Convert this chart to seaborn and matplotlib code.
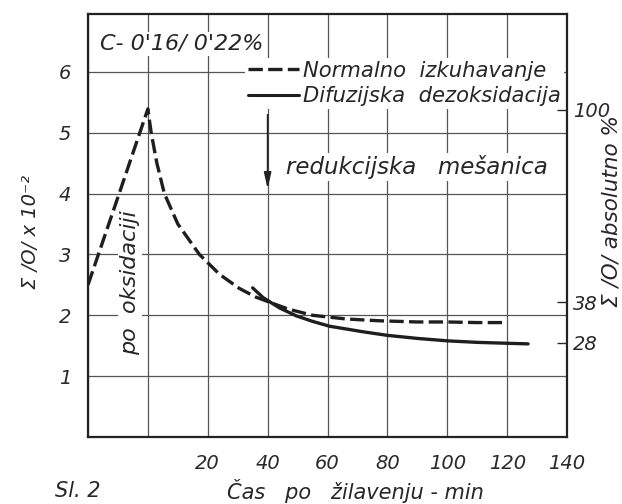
import matplotlib
matplotlib.use("Agg")
import matplotlib.pyplot as plt
import seaborn as sns
import pandas as pd
from matplotlib.lines import Line2D

# ---- data ----
normal_x = [-20, -10, 0, 1.1, 3, 5.5, 10, 17.2, 24, 30.6, 36, 42, 47, 55, 66, 77, 90, 100, 110, 120]
normal_y = [2.5, 3.94, 5.39, 5.0, 4.5, 4.0, 3.5, 3.0, 2.67, 2.44, 2.30, 2.19, 2.10, 2.00, 1.94, 1.91, 1.89, 1.89, 1.88, 1.88]
diff_x = [35, 38.5, 44, 49.6, 55, 60.7, 71.7, 80, 90, 100, 110, 120, 127]
diff_y = [2.45, 2.29, 2.12, 1.99, 1.90, 1.82, 1.73, 1.67, 1.62, 1.58, 1.555, 1.54, 1.53]

series_names = ["Normalno  izkuhavanje", "Difuzijska  dezoksidacija"]
x_ticks = [-20, 0, 20, 40, 60, 80, 100, 120, 140]
x_tick_labels = ["", "", "20", "40", "60", "80", "100", "120", "140"]
y_ticks = [1, 2, 3, 4, 5, 6]
y_tick_labels = ["1", "2", "3", "4", "5", "6"]
right_tick_pos = [5.38, 2.21, 1.55]
right_tick_labels = ["100", "38", "28"]

df = pd.concat([
    pd.DataFrame({"t": normal_x, "O": normal_y, "serija": series_names[0]}),
    pd.DataFrame({"t": diff_x, "O": diff_y, "serija": series_names[1]}),
])

sns.set_theme(style="white")
plt.rcParams["font.family"] = ["DejaVu Sans"]
plt.rcParams["font.style"] = "italic"

INK = "#1e1e1e"
fig = plt.figure(figsize=(6.22, 5.04), dpi=100)
ax = fig.add_axes([88/622, 67/504, 479/622, 423/504])

sns.lineplot(data=df, x="t", y="O", hue="serija", style="serija",
             palette=[INK, INK],
             dashes={series_names[0]: (4.3, 1.6), series_names[1]: ""},
             linewidth=2.4, ax=ax, sort=False, estimator=None, legend=False, zorder=5)

ax.set_xlim(-20, 140)
ax.set_ylim(0, 6.95)
ax.set_xticks(x_ticks)
ax.set_xticklabels(x_tick_labels, fontsize=14, style="italic")
ax.set_yticks(y_ticks)
ax.set_yticklabels(y_tick_labels, fontsize=14, style="italic")
ax.tick_params(axis="x", length=0, pad=12, colors="#2a2a2a")
ax.tick_params(axis="y", length=0, pad=12, colors="#2a2a2a")
ax.set_xlabel("")
ax.set_ylabel("")
ax.grid(True, color="#555555", linewidth=0.9)
for s in ax.spines.values():
    s.set_color("#222222")
    s.set_linewidth(1.6)

# right axis
ax2 = ax.twinx()
ax2.set_ylim(ax.get_ylim())
ax2.set_yticks(right_tick_pos)
ax2.set_yticklabels(right_tick_labels, fontsize=14, style="italic")
ax2.tick_params(axis="y", direction="in", length=7, width=1.0, pad=4, colors="#2a2a2a")
for s in ax2.spines.values():
    s.set_visible(False)

# legend
handles = [Line2D([0], [0], color=INK, lw=2.4, dashes=(4.3, 1.6)),
           Line2D([0], [0], color=INK, lw=2.2)]
leg = ax.legend(handles, series_names, loc="upper right", bbox_to_anchor=(0.994, 0.897),
                fontsize=15.2, frameon=True, facecolor="white", edgecolor="none",
                framealpha=1, handlelength=2.4, handletextpad=0.2, labelspacing=0.25,
                borderpad=0.15, borderaxespad=0)
for t in leg.get_texts():
    t.set_style("italic")
leg.set_zorder(6)

white = dict(facecolor="white", edgecolor="none", pad=1.5)
ax.text(0.025, 0.93, "C- 0'16/ 0'22%", transform=ax.transAxes, fontsize=16,
        style="italic", ha="left", va="center", bbox=white, zorder=6)
ax.text(46, 4.43, "redukcijska   mešanica", fontsize=16.5, style="italic",
        ha="left", va="center", bbox=white, zorder=6)
ax.annotate("", xy=(40, 4.03), xytext=(40, 5.34),
            arrowprops=dict(arrowstyle="-|>,head_length=0.8,head_width=0.18",
                            color="#222222", lw=1.2), zorder=6)
ax.text(-6, 2.54, "po  oksidaciji", rotation=90, fontsize=16, style="italic",
        ha="center", va="center", bbox=white, zorder=6)

ax.text(-0.121, 0.485, "Σ /O/ x 10⁻²", rotation=90, transform=ax.transAxes,
        fontsize=14, style="italic", ha="center", va="center")
ax.text(1.093, 0.535, "Σ /O/ absolutno %", rotation=90, transform=ax.transAxes,
        fontsize=15.5, style="italic", ha="center", va="center")

fig.text(355/622, 0.026, "Čas   po   žilavenju - min", fontsize=15, style="italic",
         ha="center", va="center")
fig.text(55/622, 0.005, "Sl. 2", fontsize=15, style="italic", ha="left", va="bottom")

fig.savefig("out.png", dpi=100)
